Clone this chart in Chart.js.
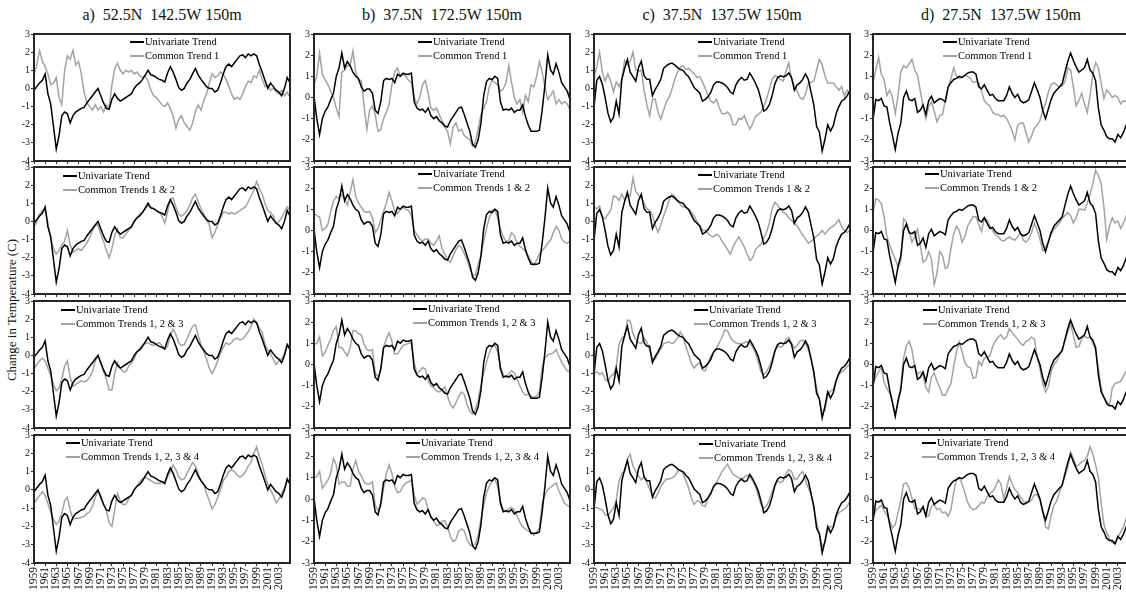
<!DOCTYPE html>
<html>
<head>
<meta charset="utf-8">
<title>Univariate vs common trends, 150m</title>
<script src="https://cdn.jsdelivr.net/npm/chart.js@4.4.1/dist/chart.umd.min.js"></script>
<style>
  body { margin: 0; background: #fff; }
  #wrap { position: relative; width: 1126px; height: 595px; overflow: hidden; font-family: "Liberation Serif", "Times New Roman", serif; color: #111; }
  #wrap canvas { position: absolute; }
  .title { position: absolute; top: 5px; width: 256px; text-align: center; font-size: 16px; line-height: 20px; white-space: pre; }
  #ylab { position: absolute; left: 12px; top: 310px; transform: translate(-50%, -50%) rotate(-90deg); font-size: 13px; white-space: nowrap; }
</style>
</head>
<body>
<div id="wrap">
  <div id="ylab">Change in Temperature (C)</div>
</div>
<script>
// half-year sample positions and axis labels
const halfYears = [1959, 1959.5, 1960, 1960.5, 1961, 1961.5, 1962, 1962.5, 1963, 1963.5,
  1964, 1964.5, 1965, 1965.5, 1966, 1966.5, 1967, 1967.5, 1968, 1968.5,
  1969, 1969.5, 1970, 1970.5, 1971, 1971.5, 1972, 1972.5, 1973, 1973.5,
  1974, 1974.5, 1975, 1975.5, 1976, 1976.5, 1977, 1977.5, 1978, 1978.5,
  1979, 1979.5, 1980, 1980.5, 1981, 1981.5, 1982, 1982.5, 1983, 1983.5,
  1984, 1984.5, 1985, 1985.5, 1986, 1986.5, 1987, 1987.5, 1988, 1988.5,
  1989, 1989.5, 1990, 1990.5, 1991, 1991.5, 1992, 1992.5, 1993, 1993.5,
  1994, 1994.5, 1995, 1995.5, 1996, 1996.5, 1997, 1997.5, 1998, 1998.5,
  1999, 1999.5, 2000, 2000.5, 2001, 2001.5, 2002, 2002.5, 2003, 2003.5,
  2004, 2004.5, 2005];
const tickYears = [1959, 1961, 1963, 1965, 1967, 1969, 1971, 1973, 1975, 1977, 1979, 1981,
  1983, 1985, 1987, 1989, 1991, 1993, 1995, 1997, 1999, 2001, 2003];

const titles = ['a)  52.5N  142.5W 150m', 'b)  37.5N  172.5W 150m', 'c)  37.5N  137.5W 150m', 'd)  27.5N  137.5W 150m'];
const univLabel = 'Univariate Trend';
const commonLabels = ['Common Trend 1', 'Common Trends 1 & 2', 'Common Trends 1, 2 & 3', 'Common Trends 1, 2, 3 & 4'];
const yMins = [-4, -3, -4, -3];
const yMax = 3;

// a) 52.5N 142.5W
const univA = [-0.1, 0.1, 0.3, 0.45, 0.8, -0.3, -0.85, -2.1, -3.35, -2.6,
  -1.5, -1.3, -1.4, -1.9, -1.5, -1.3, -1.2, -1.1, -1.05, -0.8,
  -0.6, -0.4, -0.2, 0.0, -0.4, -0.8, -1.1, -1.15, -0.6, -0.3,
  -0.55, -0.7, -0.6, -0.5, -0.4, -0.3, 0.0, 0.2, 0.3, 0.5,
  0.75, 1.0, 0.75, 0.7, 0.6, 0.5, 0.45, 0.35, 0.85, 1.2,
  0.9, 0.5, 0.05, -0.1, 0.0, 0.3, 0.5, 0.8, 1.1, 0.75,
  0.5, 0.3, 0.1, 0.0, 0.0, -0.2, -0.1, 0.3, 0.8, 1.2,
  1.35, 1.2, 1.4, 1.6, 1.8, 1.85, 1.7, 1.9, 1.8, 1.9,
  1.8, 1.3, 0.9, 0.45, 0.0, 0.3, 0.1, -0.1, -0.2, -0.4,
  0.0, 0.6, 0.3];
const commonA1 = [0.75, 1.3, 2.1, 1.5, 1.2, 0.8, 0.2, 0.3, 0.6, -0.5,
  -0.9, 1.0, 1.8, 1.6, 2.1, 1.3, 1.5, 0.8, -0.2, -0.8,
  -1.0, -1.2, -0.9, -1.2, -1.0, -1.3, -0.9, -1.1, 0.2, 1.1,
  1.4, 1.0, 0.8, 1.0, 0.9, 1.0, 0.8, 0.9, 0.7, 0.6,
  0.7, 0.4, -0.1, -0.4, -0.5, -0.7, -0.9, -1.0, -0.8, -1.1,
  -1.5, -2.2, -1.7, -1.5, -1.9, -2.1, -2.3, -1.9, -1.3, -0.9,
  -1.2, -0.7, -0.3, 0.3, 0.8, 0.6, 0.7, 0.9, 0.8, 0.5,
  0.1, -0.3, -0.6, -0.5, -0.6, -0.3, 0.1, 0.4, 0.3, 0.7,
  0.6, 1.0, 0.5, 0.1, 0.2, -0.1, 0.0, -0.2, -0.3, -0.1,
  -0.4, -0.2, -0.5];
const commonA2 = [-0.3, 0.0, 0.4, 0.6, 0.7, -0.1, -0.9, -1.5, -1.8, -1.6,
  -1.3, -1.1, -0.5, -1.3, -1.7, -1.6, -1.5, -1.6, -1.4, -1.2,
  -0.9, -0.5, -0.2, -0.2, -0.7, -1.1, -1.6, -2.0, -1.5, -0.8,
  -0.4, -0.9, -0.9, -0.7, -0.5, -0.3, 0.0, 0.2, 0.4, 0.5,
  0.7, 0.9, 0.75, 0.7, 0.6, 0.5, 0.3, -0.1, 0.5, 1.2,
  1.3, 0.8, 0.4, 0.3, 0.4, 0.6, 0.9, 1.3, 1.5, 1.1,
  0.7, 0.4, 0.1, -0.2, -0.9, -0.6, -0.2, 0.2, 0.5, 0.5,
  0.4, 0.5, 0.4, 0.5, 0.6, 0.7, 0.8, 1.1, 1.4, 1.7,
  2.2, 1.8, 1.5, 1.0, 0.6, 0.5, 0.3, -0.1, 0.0, 0.2,
  0.5, 0.8, 0.6];
const commonA3 = [-0.75, -0.5, -0.3, -0.15, -0.3, -0.7, -1.1, -1.6, -1.95, -1.8,
  -1.3, -0.6, -0.3, -1.2, -1.7, -1.6, -1.5, -1.4, -1.45, -1.4,
  -1.2, -0.9, -0.3, 0.0, -0.4, -0.9, -1.3, -1.9, -1.9, -1.0,
  -0.4, -0.7, -0.9, -0.9, -0.6, -0.4, -0.2, 0.2, 0.4, 0.6,
  0.65, 0.7, 0.6, 0.55, 0.65, 0.7, 0.55, 0.4, 0.5, 1.1,
  1.45, 1.15, 0.7, 0.55, 0.6, 0.9, 1.3, 1.6, 1.7, 1.1,
  0.6, 0.2, -0.2, -0.7, -1.0, -0.7, -0.3, 0.1, 0.45, 0.7,
  0.6, 0.7, 0.9, 0.95, 0.85, 0.9, 1.1, 1.3, 1.6, 2.0,
  1.8, 1.5, 1.3, 0.6, 0.3, 0.1, -0.2, -0.5, -0.3, -0.2,
  0.1, 0.6, 0.5];
const commonA4 = [-0.75, -0.5, -0.3, -0.1, -0.3, -0.75, -1.2, -1.6, -1.9, -1.7,
  -1.3, -0.6, -0.4, -1.1, -1.6, -1.55, -1.55, -1.5, -1.45, -1.3,
  -1.2, -0.9, -0.4, -0.1, -0.3, -0.8, -1.1, -1.8, -2.0, -1.1,
  -0.2, -0.6, -0.8, -0.8, -0.5, -0.3, 0.0, 0.2, 0.45, 0.6,
  0.7, 0.6, 0.5, 0.4, 0.35, 0.35, 0.4, 0.45, 0.7, 1.0,
  1.35, 1.1, 0.7, 0.55, 0.6, 0.9, 1.2, 1.5, 1.3, 0.9,
  0.5, 0.3, -0.2, -0.6, -1.05, -0.8, -0.4, 0.0, 0.5, 0.7,
  1.0, 1.1, 1.0, 0.8, 0.7, 0.8, 1.0, 1.3, 1.5, 2.0,
  2.35, 1.8, 1.4, 0.8, 0.3, 0.0, -0.3, -0.7, -0.5, -0.2,
  0.1, 0.5, 0.4];

// b) 37.5N 172.5W
const univB = [0.05, -1.0, -1.75, -1.0, -0.65, -0.45, -0.1, 0.2, 1.0, 1.4,
  2.1, 1.4, 1.7, 1.5, 1.2, 1.0, 0.9, 0.5, 0.3, 0.4,
  0.4, 0.2, -0.6, -0.75, -0.2, 0.8, 0.9, 0.85, 0.9, 0.7,
  1.1, 1.0, 1.15, 1.1, 1.1, 1.15, -0.2, -0.5, -0.6, -0.55,
  -0.7, -0.5, -0.85, -1.0, -0.9, -1.1, -1.2, -1.35, -1.4, -1.1,
  -0.9, -0.7, -0.5, -0.45, -0.8, -1.2, -1.6, -2.2, -2.35, -2.0,
  -1.2, 0.1, 0.75, 0.9, 0.85, 1.0, 0.9, -0.2, -0.6, -0.55,
  -0.6, -0.5, -0.7, -0.6, -0.6, -0.35, -0.9, -1.3, -1.6, -1.6,
  -1.6, -1.55, -0.6, 0.6, 2.0, 1.3, 1.1, 1.6, 1.2, 0.7,
  0.5, 0.3, -0.1];
const commonB1 = [0.6, 1.0, 2.1, 1.1, 0.85, 0.6, 0.3, 0.0, -0.5, -0.9,
  1.2, 1.3, 1.5, 1.5, 2.2, 1.2, 0.8, 0.8, -0.4, -1.5,
  -0.6, -0.4, -0.8, -1.6, -1.5, -1.0, -0.7, -0.3, 0.6, 1.2,
  1.4, 1.0, 1.1, 1.0, 0.8, 0.7, 0.0, -0.3, 0.0, 0.6,
  0.8, 0.2, -0.5, -0.6, -0.5, -0.8, -1.1, -1.4, -1.6, -2.2,
  -1.4, -1.2, -1.6, -1.5, -1.8, -1.9, -2.0, -2.3, -2.1, -1.5,
  -0.8, -0.5, -0.2, 0.5, 0.8, 0.7, 0.6, 0.3, 0.4, 0.7,
  1.5, 0.7, 0.0, -0.3, -0.1, -0.7, 0.1, -0.2, 0.6, 0.5,
  1.0, 1.7, 1.2, 0.5, -0.1, 0.1, 0.3, -0.3, -0.1, -0.3,
  -0.2, -0.3, -0.6];
const commonB2 = [0.8, 0.7, 0.65, 0.0, 0.1, 0.3, 0.9, 1.4, 1.6, 1.5,
  1.7, 1.5, 1.2, 1.8, 2.4, 1.6, 1.3, 1.1, 0.9, 0.85,
  0.9, 0.6, -0.1, 0.1, 0.5, 0.9, 1.3, 1.8, 1.4, 0.9,
  0.8, 1.0, 1.1, 1.0, 0.95, 0.7, 0.0, -0.2, -0.4, -0.5,
  -0.4, -0.4, -0.6, -0.7, -0.5, -0.25, -0.85, -1.1, -1.4, -1.5,
  -1.2, -0.9, -0.7, -0.8, -1.1, -1.4, -1.8, -2.1, -2.1, -1.6,
  -1.2, -0.5, 0.1, 0.6, 0.95, 1.0, 0.6, 0.1, -0.3, -0.5,
  -0.5, -0.1, -0.25, -0.6, -0.75, -0.85, -1.0, -1.2, -1.45, -1.65,
  -1.4, -1.1, -0.95, -0.8, -0.6, -0.45, -0.1, 0.2, 0.0, -0.4,
  -0.55, -0.6, -0.5];
const commonB3 = [0.95, 1.0, 1.3, 0.4, 0.6, 0.9, 1.2, 1.6, 1.8, 0.8,
  0.8, 0.6, 0.4, 0.8, 1.6, 1.6, 1.45, 1.4, 0.95, 0.7,
  0.65, 0.7, -0.4, -0.6, -0.3, 0.8, 1.2, 1.5, 1.1, 0.5,
  0.5, 0.7, 0.9, 0.95, 1.0, 1.0, 0.1, -0.45, -0.3, -0.15,
  -0.2, -0.75, -1.0, -1.1, -1.25, -1.3, -1.2, -1.05, -1.5, -1.9,
  -2.05, -1.8, -1.5, -1.3, -1.4, -1.9, -2.2, -2.35, -2.1, -1.7,
  -1.0, -0.4, 0.1, 0.55, 0.85, 0.9, 0.6, -0.1, -0.5, -0.6,
  -0.45, -0.3, -0.4, -0.7, -1.0, -1.3, -1.45, -1.4, -1.5, -1.55,
  -1.5, -1.3, -0.1, 0.3, 0.45, 0.5, 0.55, 0.7, 0.4, 0.1,
  -0.1, -0.3, -0.35];
const commonB4 = [1.0, 1.05, 1.3, 0.5, 0.7, 0.9, 1.2, 1.9, 1.6, 0.7,
  0.8, 0.8, 0.6, 0.6, 1.4, 1.8, 1.3, 1.1, 0.8, 0.7,
  0.7, 0.8, -0.3, -0.55, -0.3, 0.5, 1.2, 1.6, 1.2, 0.6,
  0.3, 0.35, 0.6, 0.75, 0.8, 0.9, 0.2, -0.25, -0.1, 0.05,
  0.0, -0.5, -0.8, -1.05, -1.25, -1.2, -1.05, -1.0, -1.3, -1.75,
  -2.0, -1.9, -1.5, -1.4, -1.5, -1.9, -2.15, -2.2, -2.1, -1.7,
  -0.95, -0.3, 0.3, 0.6, 0.85, 0.95, 0.6, -0.1, -0.5, -0.6,
  -0.45, -0.4, -0.5, -0.8, -1.1, -1.3, -1.4, -1.5, -1.6, -1.7,
  -1.55, -1.35, -0.2, 0.2, 0.45, 0.55, 0.65, 0.75, 0.4, 0.1,
  -0.2, -0.3, -0.35];

// c) 37.5N 137.5W
const univC = [-1.05, 0.45, 0.65, 0.25, -0.5, -1.35, -1.85, -1.6, -0.7, -1.4,
  0.5, 1.1, 1.6, 0.9, 0.65, 0.4, 1.15, 1.5, 0.7, 0.5,
  0.5, -0.4, -0.05, 0.2, 0.5, 1.1, 1.25, 1.35, 1.4, 1.3,
  1.15, 1.05, 1.0, 0.8, 0.65, 0.35, 0.05, -0.1, -0.25, -0.7,
  -0.6, -0.45, -0.2, 0.2, 0.35, 0.35, 0.3, 0.2, 0.05, -0.2,
  -0.3, 0.2, 0.45, 0.6, 0.45, 0.5, 0.85, 0.6, 0.3, -0.05,
  -0.6, -1.25, -1.15, -0.9, -0.4, 0.25, 0.6, 0.7, 0.65, 0.7,
  0.85, 0.6, -0.1, 0.2, 0.3, 0.5, 0.8, 0.5, -0.2, -0.9,
  -2.1, -2.4, -3.45, -2.8, -2.0, -2.35, -2.05, -1.4, -1.0, -0.7,
  -0.6, -0.4, -0.1];
const commonC1 = [0.6, 1.2, 2.0, 0.9, 0.4, 0.8, 0.4, -0.2, 0.35, 0.1,
  0.5, 1.55, 1.3, 1.5, 2.0, 1.0, 0.95, 1.0, -0.1, -0.9,
  -1.5, -0.6, -0.6, -1.3, -1.7, -1.2, -0.75, -0.5, -0.05, 0.5,
  0.9, 1.15, 1.25, 1.05, 1.1, 0.95, 0.8, 0.6, 0.65, 0.35,
  0.0, -0.4, -0.7, -0.8, -0.6, -1.05, -1.4, -1.4, -1.3, -1.5,
  -2.0, -2.0, -1.65, -1.7, -1.5, -1.9, -2.25, -1.95, -1.55, -1.45,
  -1.3, -1.0, -0.6, -0.05, 0.5, 0.7, 0.65, 0.5, 0.4, 0.95,
  1.4, 0.5, 0.15, -0.15, -0.5, -0.6, -0.3, 0.25, 0.35, 0.4,
  1.0, 1.6, 1.3, 0.7, 0.3, 0.3, 0.3, 0.1, -0.1, 0.1,
  -0.4, -0.1, -0.3];
const commonC2 = [0.8, 0.7, 0.85, 0.25, 0.15, 0.4, 0.6, 1.4, 1.35, 1.15,
  1.5, 1.2, 1.45, 1.4, 2.4, 1.65, 1.45, 1.3, 1.0, 0.7,
  0.6, 0.35, -0.2, -0.6, -0.2, 0.3, 0.7, 1.2, 1.5, 1.4,
  1.1, 0.95, 0.8, 0.8, 0.7, 0.5, 0.3, 0.0, -0.25, -0.5,
  -0.5, -0.65, -0.8, -0.85, -0.7, -0.8, -1.1, -1.3, -1.55, -1.8,
  -1.4, -1.1, -0.85, -1.1, -1.4, -1.8, -2.15, -2.0, -1.55, -1.4,
  -1.25, -0.9, -0.6, -0.1, 0.7, 1.05, 0.9, 0.65, 0.5, 0.4,
  0.2, 0.05, -0.1, -0.25, -0.5, -0.75, -0.95, -1.2, -1.1, -0.95,
  -0.8, -0.7, -0.5, -0.7, -0.5, -0.35, -0.25, -0.1, 0.1, -0.3,
  -0.5, -0.6, -0.5];
const commonC3 = [-1.0, -0.9, -1.05, -0.95, -1.3, -1.45, -1.15, -1.05, -0.6, 0.6,
  0.95, 1.05, 1.95, 1.9, 1.2, 0.9, 0.7, 0.65, 0.95, 0.75,
  0.3, -0.2, -0.2, 0.1, 0.35, 0.65, 0.7, 0.75, 0.65, 0.75,
  0.95, 1.3, 1.05, 0.5, 0.05, -0.45, -0.7, -0.5, -0.4, -0.8,
  -0.85, -0.4, 0.0, 0.15, 0.4, 0.7, 1.0, 1.4, 1.35, 1.0,
  0.8, 0.7, 0.65, 0.65, 0.7, 0.75, 0.65, 0.45, 0.15, -0.35,
  -0.9, -1.05, -0.9, -0.6, -0.2, 0.2, 0.55, 0.45, 0.55, 0.9,
  1.0, 0.7, 0.4, 0.55, 0.8, 0.85, 0.7, 0.3, -0.1, -1.05,
  -1.8, -2.45, -3.25, -3.0, -2.2, -1.95, -1.9, -1.4, -1.05, -0.9,
  -0.8, -0.6, -0.5];
const commonC4 = [-1.0, -0.95, -1.05, -1.1, -1.35, -1.4, -1.2, -1.0, -0.6, 0.5,
  0.9, 1.0, 1.7, 1.95, 1.3, 1.0, 0.75, 0.55, 0.7, 0.4,
  0.05, -0.35, -0.45, -0.2, 0.2, 0.4, 0.6, 0.6, 0.65, 0.75,
  1.0, 1.1, 0.9, 0.5, 0.1, -0.45, -0.8, -0.6, -0.65, -0.85,
  -0.9, -0.4, -0.1, 0.15, 0.4, 0.7, 1.0, 1.2, 1.4, 1.1,
  0.85, 0.75, 0.65, 0.55, 0.7, 0.8, 0.7, 0.5, 0.2, -0.3,
  -0.8, -1.0, -0.9, -0.55, -0.1, 0.2, 0.5, 0.4, 0.5, 0.9,
  1.1, 1.0, 0.6, 0.6, 0.85, 1.0, 0.5, 0.1, -0.25, -1.0,
  -1.8, -2.45, -3.1, -2.9, -2.2, -2.0, -2.0, -1.5, -1.25, -1.15,
  -1.05, -0.9, -0.6];

// d) 27.5N 137.5W
const univD = [-1.05, -0.1, -0.15, -0.05, -0.4, -0.45, -1.2, -1.8, -2.45, -1.7,
  -1.2, 0.0, 0.3, -0.1, -0.15, -0.05, -0.7, -0.6, -0.35, -0.8,
  -0.15, 0.05, -0.25, -0.15, -0.05, -0.1, -0.2, 0.5, 0.7, 0.85,
  0.9, 1.0, 0.95, 1.05, 1.15, 1.2, 1.2, 1.1, 0.5, 0.4,
  0.6, 0.35, 0.1, 0.15, -0.05, -0.15, -0.15, -0.15, 0.1, 0.5,
  0.2, 0.0, 0.15, -0.15, -0.25, -0.2, -0.1, 0.3, 0.7, 0.35,
  0.0, -0.6, -1.0, -0.55, -0.1, 0.2, 0.35, 0.5, 0.65, 1.2,
  1.7, 2.1, 1.75, 1.45, 1.2, 1.3, 1.4, 1.8, 1.3, 1.15,
  0.8, -0.5, -1.3, -1.55, -1.85, -1.95, -1.95, -2.1, -1.75, -1.9,
  -1.65, -1.3, -1.2];
const commonD1 = [0.7, 1.3, 1.9, 1.1, 0.85, 0.1, 0.35, 0.0, -0.75, 0.1,
  1.2, 1.5, 1.4, 1.6, 1.8, 1.3, 1.05, 0.3, -0.4, -1.0,
  -0.45, -0.2, -0.65, -1.15, -0.85, -0.8, -0.1, 0.45, 0.9, 1.4,
  1.0, 0.9, 0.95, 1.05, 1.0, 0.9, 0.7, 0.75, 0.7, 0.3,
  -0.15, -0.3, -0.4, -0.7, -0.8, -0.8, -0.9, -0.85, -1.0, -1.25,
  -1.6, -2.0, -1.3, -1.2, -1.2, -1.65, -2.1, -1.8, -1.45, -1.3,
  -1.1, -0.6, -0.3, 0.25, 0.6, 0.7, 0.6, 0.5, 0.55, 0.75,
  1.4, 1.3, 0.5, -0.4, -0.15, 0.2, -0.3, -0.7, 0.1, 1.1,
  1.65, 1.4, 0.65, -0.05, 0.35, 0.2, 0.0, 0.1, 0.0, -0.3,
  -0.15, -0.2, -0.2];
const commonD2 = [0.85, 1.5, 1.45, 1.25, 0.65, -0.3, -0.7, -1.05, -1.35, -1.75,
  -1.4, 0.55, 0.4, -0.05, -0.55, -0.3, 0.05, -0.7, -1.5, -1.4,
  -1.0, -1.35, -2.55, -2.0, -1.0, -1.2, -1.8, -1.7, -0.85, -0.15,
  0.2, 0.0, -0.55, -0.3, 0.2, 0.45, 0.65, 0.65, 0.3, -0.05,
  0.6, 0.5, 0.2, 0.0, -0.2, -0.3, -0.45, -0.5, -0.4, -0.3,
  -0.4, -0.45, -0.3, -0.1, -0.45, -0.55, -0.4, -0.1, 0.35, 0.0,
  -0.4, -0.95, -0.85, -0.5, -0.2, 0.05, 0.2, 0.35, 0.6, 0.7,
  0.85, 0.7, 0.35, 0.6, 1.0, 1.0, 0.95, 1.3, 1.7, 2.2,
  2.85, 2.6, 2.2, 1.1, -0.4, 0.2, 0.6, 0.35, 0.45, 0.1,
  0.35, 0.7, 0.6];
const commonD3 = [-0.95, -0.6, -0.35, -0.15, -0.85, -1.15, -1.35, -1.8, -2.35, -1.85,
  -1.0, 0.3, 0.9, 1.1, 0.7, -0.1, -0.45, -0.35, -0.5, -1.1,
  -1.3, -0.6, -0.4, -0.8, -1.1, -1.45, -1.45, -1.15, -0.9, -0.1,
  0.6, 1.05, 0.6, 0.1, -0.1, -0.15, -0.65, -0.6, 0.15, -0.05,
  0.3, 0.35, 0.4, 0.85, 1.1, 1.3, 1.4, 1.2, 1.3, 1.7,
  1.5, 1.35, 1.2, 1.0, 0.9, 1.1, 1.15, 1.3, 1.2, 0.35,
  -0.2, -0.9, -1.3, -1.05, -0.35, 0.0, 0.15, 0.45, 0.75, 1.1,
  1.55, 1.9, 1.4, 0.8, 0.85, 1.2, 1.35, 1.25, 1.3, 1.0,
  0.65, -0.2, -1.1, -1.6, -1.75, -1.9, -1.1, -0.9, -0.85, -0.8,
  -0.55, -0.3, -0.2];
const commonD4 = [-0.85, -0.55, -0.4, -0.3, -0.55, -0.75, -1.05, -1.35, -1.2, -0.65,
  -0.05, 0.7, 0.75, 0.5, 0.05, -0.45, -0.45, -0.5, -0.4, -0.8,
  -0.8, -0.35, -0.25, -0.5, -0.45, -0.65, -0.6, -0.8, -0.5, 0.3,
  0.95, 1.0, 0.7, 0.3, -0.15, -0.4, -0.5, -0.45, -0.3, -0.15,
  -0.2, 0.1, 0.25, 0.35, 0.55, 0.9, 0.7, 0.0, 0.5, 1.05,
  0.7, 0.45, 0.3, 0.1, -0.1, -0.15, -0.15, -0.05, 0.2, 0.2,
  0.0, -0.55, -1.3, -1.4, -0.8, -0.3, -0.1, 0.3, 0.7, 1.05,
  1.5, 2.2, 1.9, 1.55, 1.6, 1.75, 1.8, 2.0, 2.45, 2.1,
  1.6, 1.0, -0.2, -1.2, -1.6, -1.85, -2.05, -2.1, -1.8, -1.55,
  -1.3, -0.9, -0.8];

const univ = [univA, univB, univC, univD];
const common = [
  [commonA1, commonA2, commonA3, commonA4],
  [commonB1, commonB2, commonB3, commonB4],
  [commonC1, commonC2, commonC3, commonC4],
  [commonD1, commonD2, commonD3, commonD4]
];

// page layout (pixels)
const colLeft = [34, 314, 594, 873];
const rowTop = [34, 167, 301, 435];
const plotW = 256, plotH = 128;
const padL = 30, padT = 10, padR = 10;
// legend anchor inside each plot: [dx, dy] from plot top-left, per column then row
const legendPos = [
  [[96, 8], [29, 9], [27, 9], [32, 8]],
  [[104, 8], [104, 7], [99, 8], [92, 8]],
  [[104, 8], [104, 8], [100, 9], [105, 9]],
  [[70, 8], [52, 7], [50, 9], [49, 8]]
];
const serif = '"Liberation Serif", "Times New Roman", serif';

const wrap = document.getElementById('wrap');

const framePlugin = {
  id: 'frame',
  afterDraw(chart) {
    const a = chart.chartArea, ctx = chart.ctx;
    ctx.save();
    ctx.strokeStyle = '#262626';
    ctx.lineWidth = 2;
    ctx.strokeRect(a.left, a.top, a.right - a.left, a.bottom - a.top);
    ctx.restore();
  }
};

const boxLegend = {
  id: 'boxLegend',
  afterDraw(chart, args, opts) {
    const a = chart.chartArea, ctx = chart.ctx;
    ctx.save();
    ctx.font = '10.5px ' + serif;
    ctx.textBaseline = 'middle';
    chart.data.datasets.forEach((ds, i) => {
      const x = a.left + opts.dx, y = a.top + opts.dy + i * 14;
      ctx.strokeStyle = ds.borderColor;
      ctx.lineWidth = 2;
      ctx.beginPath();
      ctx.moveTo(x, y);
      ctx.lineTo(x + 14, y);
      ctx.stroke();
      ctx.fillStyle = '#000';
      ctx.fillText(ds.label, x + 15, y + 0.5);
    });
    ctx.restore();
  }
};

function pts(values) {
  return halfYears.map((x, i) => ({ x: x, y: values[i] }));
}

for (let c = 0; c < 4; c++) {
  const t = document.createElement('div');
  t.className = 'title';
  t.style.left = colLeft[c] + 'px';
  t.textContent = titles[c];
  wrap.appendChild(t);

  for (let r = 0; r < 4; r++) {
    const bottomH = r === 3 ? 32 : 6;
    const canvas = document.createElement('canvas');
    canvas.width = padL + plotW + padR;
    canvas.height = padT + plotH + bottomH;
    canvas.style.left = (colLeft[c] - padL) + 'px';
    canvas.style.top = (rowTop[r] - padT) + 'px';
    wrap.appendChild(canvas);

    const chart = new Chart(canvas, {
      type: 'line',
      data: {
        datasets: [
          { label: univLabel, data: pts(univ[c]), borderColor: '#000000', borderWidth: 1.5, pointRadius: 0, tension: 0 },
          { label: commonLabels[r], data: pts(common[c][r]), borderColor: '#a3a3a3', borderWidth: 1.5, pointRadius: 0, tension: 0 }
        ]
      },
      options: {
        responsive: false,
        animation: false,
        devicePixelRatio: 1,
        layout: { padding: { top: padT, right: padR, left: 0, bottom: 0 } },
        plugins: {
          legend: { display: false },
          tooltip: { enabled: false },
          boxLegend: { dx: legendPos[c][r][0], dy: legendPos[c][r][1] }
        },
        scales: {
          x: {
            type: 'linear',
            min: 1959,
            max: 2005,
            afterBuildTicks: ax => { ax.ticks = tickYears.map(v => ({ value: v })); },
            afterFit: ax => { ax.height = bottomH; },
            border: { display: false },
            grid: { drawOnChartArea: false, drawTicks: true, tickLength: 3, color: '#262626', lineWidth: 1 },
            ticks: {
              display: r === 3,
              autoSkip: false,
              minRotation: 90,
              maxRotation: 90,
              padding: 1,
              color: '#111',
              font: { family: serif, size: 11.5 },
              callback: v => String(v)
            }
          },
          y: {
            min: yMins[c],
            max: yMax,
            afterFit: ax => { ax.width = padL; },
            border: { display: false },
            grid: { drawOnChartArea: false, drawTicks: true, tickLength: 3, color: '#262626', lineWidth: 1 },
            ticks: { stepSize: 1, padding: 1, color: '#111', font: { family: serif, size: 10 }, callback: v => String(v) }
          }
        }
      },
      plugins: [framePlugin, boxLegend]
    });

    // pin the plot area to its place on the page
    const a = chart.chartArea;
    canvas.style.left = (colLeft[c] - a.left) + 'px';
    canvas.style.top = (rowTop[r] - a.top) + 'px';
  }
}
</script>
</body>
</html>
